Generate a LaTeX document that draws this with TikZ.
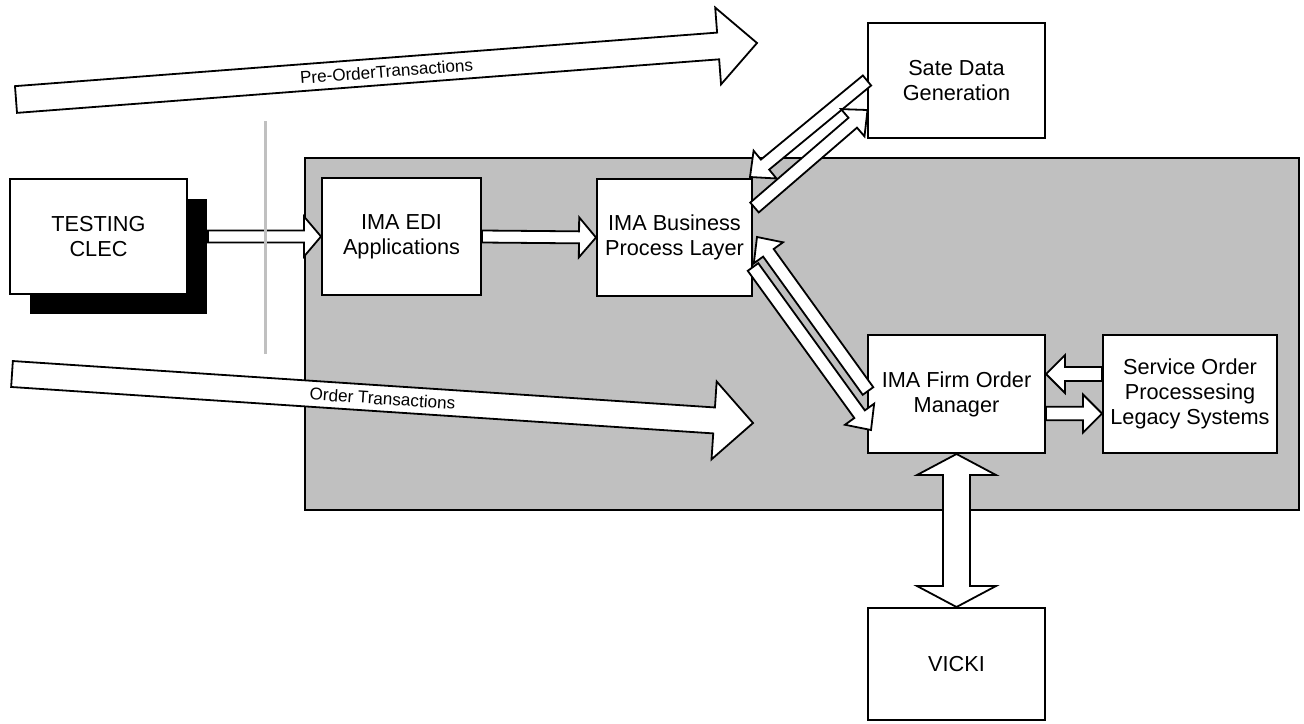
\documentclass[tikz,border=0pt]{standalone}
\usepackage{fontspec}
\setmainfont{Liberation Sans}
\usepackage{tikz}
\usetikzlibrary{calc,shadows}
\definecolor{panelgray}{HTML}{C0C0C0}
\newcommand{\boxfont}{\fontsize{10.85}{12.5}\selectfont}
\newcommand{\labfont}{\fontsize{8.55}{10}\selectfont}
\tikzset{
  box/.style={draw=black, fill=white, line width=1pt, align=center, inner sep=0pt, font=\boxfont},
  shadowed/.style={drop shadow={shadow xshift=10pt, shadow yshift=-10pt, fill=black, opacity=1}},
  panel/.style={draw=black, fill=panelgray, line width=1pt},
  sepline/.style={draw=panelgray, line width=1.5pt},
  fat/.style={draw=black, fill=white, line width=0.9pt, line join=miter},
  flowlab/.style={font=\labfont, inner sep=0pt},
}
% fat arrow: from, to, shaft half width, head half width, head length
\newcommand{\fatarrow}[5]{%
  \coordinate (fa-c) at ($(#2)!#5!(#1)$);
  \draw[fat] ($(#1)!#3!90:(#2)$) -- ($(fa-c)!#3!90:(#2)$) -- ($(fa-c)!#4!90:(#2)$)
    -- (#2) -- ($(fa-c)!#4!-90:(#2)$) -- ($(fa-c)!#3!-90:(#2)$) -- ($(#1)!#3!-90:(#2)$) -- cycle;
}
% same with a head at both ends
\newcommand{\fatdarrow}[5]{%
  \coordinate (fa-a) at ($(#1)!#5!(#2)$);
  \coordinate (fa-b) at ($(#2)!#5!(#1)$);
  \draw[fat] (#1) -- ($(fa-a)!#4!90:(#2)$) -- ($(fa-a)!#3!90:(#2)$) -- ($(fa-b)!#3!90:(#2)$)
    -- ($(fa-b)!#4!90:(#2)$) -- (#2) -- ($(fa-b)!#4!-90:(#2)$) -- ($(fa-b)!#3!-90:(#2)$)
    -- ($(fa-a)!#3!-90:(#2)$) -- ($(fa-a)!#4!-90:(#2)$) -- cycle;
}

\begin{document}
\begin{tikzpicture}[x=0.5pt, y=-0.5pt]
  \useasboundingbox (0,0) rectangle (1304,723);
  \draw[panel] (305,158) rectangle (1299,510);

  \node[box, shadowed, minimum width=88.5pt, minimum height=57.5pt] (clec) at (98.5,236.5) {TESTING\\CLEC};
  \node[box, minimum width=79.5pt, minimum height=58.5pt] (edi) at (401.5,236.5) {IMA EDI\\Applications};
  \node[box, minimum width=77.5pt, minimum height=58.5pt] (bpl) at (674.5,237.5) {IMA Business\\Process Layer};
  \node[box, minimum width=88.5pt, minimum height=57.5pt] (sate) at (956.5,80.5) {Sate Data\\Generation};
  \node[box, minimum width=88.5pt, minimum height=59pt] (fom) at (956.5,394) {IMA Firm Order\\Manager};
  \node[box, minimum width=87pt, minimum height=59pt] (sop) at (1190,394) {Service Order\\Processesing\\Legacy Systems};
  \node[box, minimum width=88.5pt, minimum height=56pt] (vicki) at (956.5,664) {VICKI};

  % transaction flows
  \coordinate (pre-a) at (16,99.5);
  \coordinate (pre-b) at (757,43);
  \coordinate (ord-a) at (12,374);
  \coordinate (ord-b) at (753,423);
  \fatarrow{pre-a}{pre-b}{6.7pt}{19.25pt}{19.5pt}
  \fatarrow{ord-a}{ord-b}{6.5pt}{19.5pt}{19.5pt}
  \path (pre-a) -- (pre-b) node[flowlab, midway, sloped] {Pre-OrderTransactions};
  \path (ord-a) -- (ord-b) node[flowlab, midway, sloped] {Order Transactions};

  % box to box
  \coordinate (clec-out) at ($(clec.east)+(20,0)$);
  \fatarrow{clec-out}{edi.west}{3pt}{10pt}{8.5pt}
  \fatarrow{edi.east}{bpl.west}{3pt}{10pt}{8.5pt}

  \coordinate (s1-b) at ($(bpl.north east)+(-3,-1)$);
  \coordinate (s2-a) at ($(bpl.east)+(1.5,-30)$);
  \coordinate (s2-b) at ($(sate.west)+(0.5,29.5)$);
  \fatarrow{sate.west}{s1-b}{3.25pt}{9pt}{9.75pt}
  \fatarrow{s2-a}{s2-b}{3.25pt}{9pt}{9.75pt}

  \coordinate (f1-a) at ($(fom.west)+(1,-3)$);
  \coordinate (f1-b) at ($(bpl.east)+(4,-0.5)$);
  \coordinate (f2-a) at ($(bpl.east)+(0,29.5)$);
  \coordinate (f2-b) at ($(fom.west)+(4,36)$);
  \fatarrow{f1-a}{f1-b}{3.25pt}{9pt}{9.75pt}
  \fatarrow{f2-a}{f2-b}{3.25pt}{9pt}{9.75pt}

  \coordinate (l1-a) at ($(sop.west)+(0,-20)$);
  \coordinate (l1-b) at ($(fom.east)+(0,-20)$);
  \coordinate (l2-a) at ($(fom.east)+(0,19.5)$);
  \coordinate (l2-b) at ($(sop.west)+(0,19.5)$);
  \fatarrow{l1-a}{l1-b}{3.5pt}{9.5pt}{9.5pt}
  \fatarrow{l2-a}{l2-b}{3.4pt}{9.5pt}{9.5pt}

  \fatdarrow{fom.south}{vicki.north}{6.75pt}{19.75pt}{10.5pt}

  \draw[sepline] (265,121) -- (265,354);
\end{tikzpicture}
\end{document}
